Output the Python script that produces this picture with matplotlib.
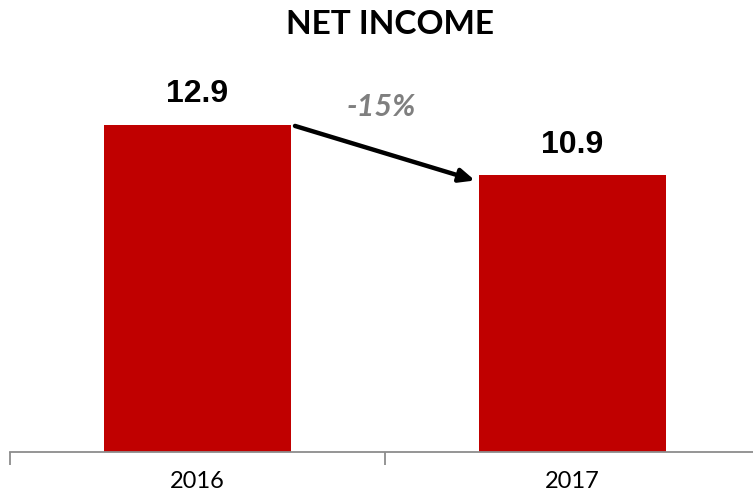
import matplotlib.pyplot as plt

years = ["2016", "2017"]
net_income = [12.9, 10.9]
change_label = "-15%"

bar_color = "#C00000"
axis_gray = "#8C8C8C"

fig = plt.figure(figsize=(7.53, 4.98), dpi=100)
ax = fig.add_axes([10 / 753, 46 / 498, 750 / 753, 406 / 498])

x = range(len(years))
bars = ax.bar(x, net_income, width=0.5, color=bar_color)

ax.set_xlim(-0.5, 1.5)
ax.set_ylim(0, 16)

# value labels above each bar
for xi, v in zip(x, net_income):
    ax.text(xi, v + 0.6, f"{v:.1f}", ha="center", va="bottom",
            fontsize=23, fontweight="bold", family="Liberation Sans")

# arrow from the first bar top to the second bar top
ax.annotate("", xy=(1 - 0.26, net_income[1] - 0.2), xytext=(0 + 0.26, net_income[0] - 0.05),
            arrowprops=dict(arrowstyle="-|>,head_length=0.9,head_width=0.4",
                            color="black", lw=3.2, shrinkA=0, shrinkB=0))
ax.text(0.49, 13.6, change_label, ha="center", va="center", fontsize=22,
        fontweight="bold", style="italic", color="#7F7F7F", family="Lato")

# only the bottom axis with tick marks between categories
for side in ["left", "right", "top"]:
    ax.spines[side].set_visible(False)
ax.spines["bottom"].set_color(axis_gray)
ax.spines["bottom"].set_linewidth(1.3)
ax.set_yticks([])
ax.set_xticks([-0.5, 0.5, 1.5])
ax.set_xticklabels([])
ax.set_xticks(list(x), minor=True)
ax.set_xticklabels(years, minor=True, fontsize=17, family="Lato")
ax.tick_params(axis="x", which="major", direction="out", length=9, width=1.3, color=axis_gray)
ax.tick_params(axis="x", which="minor", length=0, pad=14)

fig.text(390 / 753, 1 - 25 / 498, "NET INCOME", ha="center", va="center",
         fontsize=24, fontweight="bold", family="Lato")

fig.savefig("out.png", dpi=100)
